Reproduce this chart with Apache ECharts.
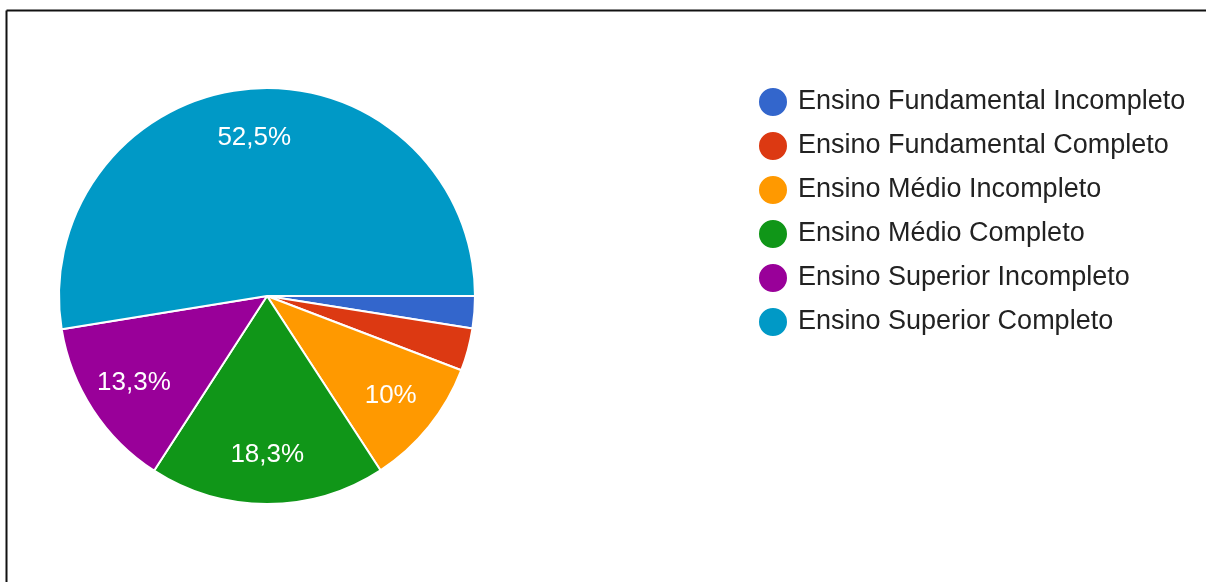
<!DOCTYPE html>
<html>
<head>
<meta charset="utf-8">
<script src="https://cdn.jsdelivr.net/npm/echarts@6/dist/echarts.min.js"></script>
<style>
  html, body { margin: 0; padding: 0; background: #ffffff; }
  #chart { width: 1206px; height: 582px; }
</style>
</head>
<body>
<div id="chart"></div>
<script>
// Escolaridade dos respondentes (%)
const categories = [
  'Ensino Fundamental Incompleto',
  'Ensino Fundamental Completo',
  'Ensino Médio Incompleto',
  'Ensino Médio Completo',
  'Ensino Superior Incompleto',
  'Ensino Superior Completo'
];
const percentages = [2.5, 3.3, 10, 18.3, 13.3, 52.5];
const colors = ['#3366cc', '#dc3912', '#ff9900', '#109618', '#990099', '#0099c6'];

const FONT = '"Liberation Sans", Arial, sans-serif';
const pieData = categories.map((name, i) => ({ name, value: percentages[i] }));

const chart = echarts.init(document.getElementById('chart'), null, { renderer: 'canvas' });

chart.setOption({
  backgroundColor: '#ffffff',
  animation: false,
  color: colors,
  legend: {
    orient: 'vertical',
    left: 752,
    top: 81,
    icon: 'circle',
    itemWidth: 30,
    itemHeight: 30,
    itemGap: 12,
    selectedMode: false,
    data: categories,
    textStyle: {
      fontFamily: FONT,
      fontSize: 27,
      color: '#222222',
      padding: [0, 0, 0, 5]
    }
  },
  graphic: [
    // thin frame along the top and left edges
    { type: 'line', shape: { x1: 6.5, y1: 10.5, x2: 1206, y2: 10.5 }, style: { stroke: '#111', lineWidth: 2 } },
    { type: 'line', shape: { x1: 6.5, y1: 10.5, x2: 6.5, y2: 582 }, style: { stroke: '#111', lineWidth: 2 } }
  ],
  series: [
    {
      type: 'pie',
      center: [267, 296],
      radius: [0, 208],
      startAngle: 0,
      clockwise: true,
      avoidLabelOverlap: false,
      label: { show: false },
      labelLine: { show: false },
      emphasis: { disabled: true },
      itemStyle: { borderColor: '#ffffff', borderWidth: 2 },
      data: pieData
    },
    {
      // transparent ring used only to place percentage labels further out
      type: 'pie',
      silent: true,
      center: [267, 296],
      radius: [104, 208],
      startAngle: 0,
      clockwise: true,
      avoidLabelOverlap: false,
      legendHoverLink: false,
      itemStyle: { color: 'rgba(0,0,0,0)', borderWidth: 0 },
      labelLine: { show: false },
      emphasis: { disabled: true },
      label: {
        show: true,
        position: 'inside',
        fontFamily: FONT,
        fontSize: 26,
        color: '#ffffff',
        formatter: p => p.value < 5 ? '' : String(p.value).replace('.', ',') + '%'
      },
      data: pieData
    }
  ]
});
</script>
</body>
</html>
